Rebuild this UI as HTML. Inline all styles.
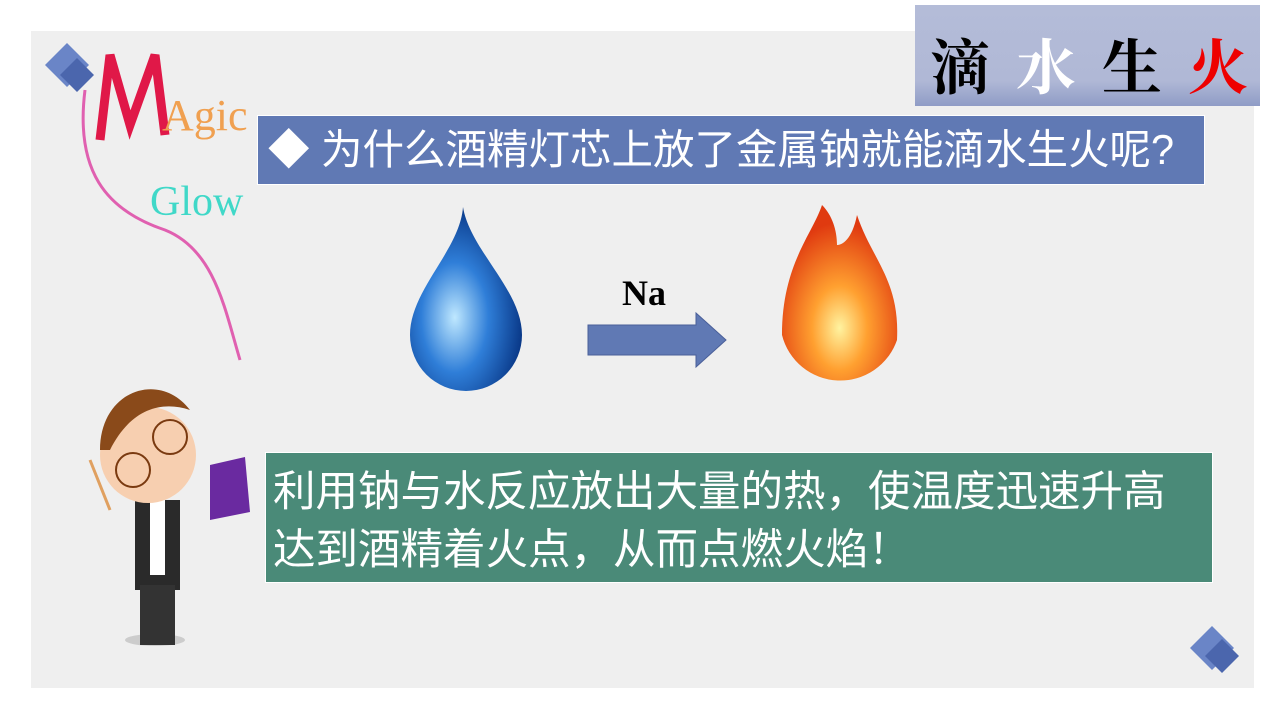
<!DOCTYPE html>
<html><head><meta charset="utf-8"><style>
body{margin:0;width:1285px;height:720px;background:#fff;position:relative;overflow:hidden;font-family:"Liberation Sans","Noto Sans CJK SC",sans-serif}
.a{position:absolute}
</style></head><body>
<div class="a" style="left:31px;top:31px;width:1223px;height:657px;background:#efefef"></div>
<div class="a" style="left:915px;top:5px;width:345px;height:101px;background:linear-gradient(#b4bcd8,#b0b8d6 75%,#8f9cc6)"></div>
<div class="a" style="left:930px;top:24px;font-family:'Noto Serif CJK SC',serif;font-size:60px;font-weight:bold;line-height:80px;letter-spacing:26px;white-space:nowrap"><span style="color:#000">滴</span><span style="color:#fff">水</span><span style="color:#000">生</span><span style="color:#e00">火</span></div>
<div class="a" style="left:257px;top:115px;width:946px;height:68px;background:#6079b4;border:1px solid #fff"></div>
<div class="a" style="left:268px;top:128px;color:#fff;font-size:41.5px;line-height:44px;white-space:nowrap">◆ 为什么酒精灯芯上放了金属钠就能滴水生火呢?</div>
<div class="a" style="left:265px;top:452px;width:946px;height:129px;background:#4a8a78;border:1px solid #fff"></div>
<div class="a" style="left:273px;top:464px;color:#fff;font-size:42.5px;line-height:58px;white-space:nowrap">利用钠与水反应放出大量的热，使温度迅速升高<br>达到酒精着火点，从而点燃火焰！</div>
<div class="a" style="left:622px;top:272px;font-family:'Liberation Serif',serif;font-weight:bold;font-size:36px">Na</div>
<svg class="a" style="left:0;top:0" width="1285" height="720">
<path d="M588 325h108v-12l30 27-30 27v-12H588z" fill="#6079b4" stroke="#4a5f99"/>
<defs><radialGradient id="w" cx="0.4" cy="0.6" r="0.6"><stop offset="0" stop-color="#bfe8ff"/><stop offset="0.5" stop-color="#2f7ed8"/><stop offset="1" stop-color="#0a3a8a"/></radialGradient>
<radialGradient id="f" cx="0.5" cy="0.7" r="0.6"><stop offset="0" stop-color="#fff3a0"/><stop offset="0.4" stop-color="#ffa030"/><stop offset="1" stop-color="#e03a10"/></radialGradient></defs>
<path d="M463 207C470 250 522 290 522 335a56 56 0 0 1-112 0c0-45 50-85 53-128z" fill="url(#w)"/>
<path d="M822 205c-10 30-40 60-40 130a60 60 0 0 0 115 5c3-60-25-80-40-125-5 25-15 30-20 30 0-15 -5-30-15-40z" fill="url(#f)"/>
<path d="M45 65l22-22 22 22-22 22z" fill="#6a85c7"/><path d="M60 75l17-17 17 17-17 17z" fill="#4b66ad"/>
<path d="M1190 648l22-22 22 22-22 22z" fill="#6a85c7"/><path d="M1205 656l17-17 17 17-17 17z" fill="#4b66ad"/>
<path d="M100 140l10-85 20 70 25-70 10 80" fill="none" stroke="#e01848" stroke-width="9"/>
<text x="162" y="130" font-size="44" fill="#f0a050" font-family="Liberation Serif">Agic</text>
<text x="150" y="215" font-size="42" fill="#40d8c8" font-family="Liberation Serif">Glow</text>
<path d="M85 90c-10 80 20 120 80 140 50 20 60 80 75 130" fill="none" stroke="#e060b0" stroke-width="3"/>
<ellipse cx="155" cy="640" rx="30" ry="6" fill="#ccc"/>
<rect x="135" y="500" width="45" height="90" fill="#2a2a2a"/><rect x="140" y="585" width="35" height="60" fill="#333"/>
<rect x="150" y="500" width="15" height="75" fill="#fff"/>
<circle cx="148" cy="455" r="48" fill="#f7cfb0"/><path d="M100 450c0-60 60-80 90-40-30-10-60 0-80 40z" fill="#8a4a1a"/>
<circle cx="133" cy="470" r="17" fill="none" stroke="#7a3a10" stroke-width="2"/><circle cx="170" cy="437" r="17" fill="none" stroke="#7a3a10" stroke-width="2"/>
<path d="M210 465l35-8 5 55-40 8z" fill="#6a2aa0"/>
<path d="M90 460l20 50" stroke="#e0a060" stroke-width="3"/>
</svg>
</body></html>
